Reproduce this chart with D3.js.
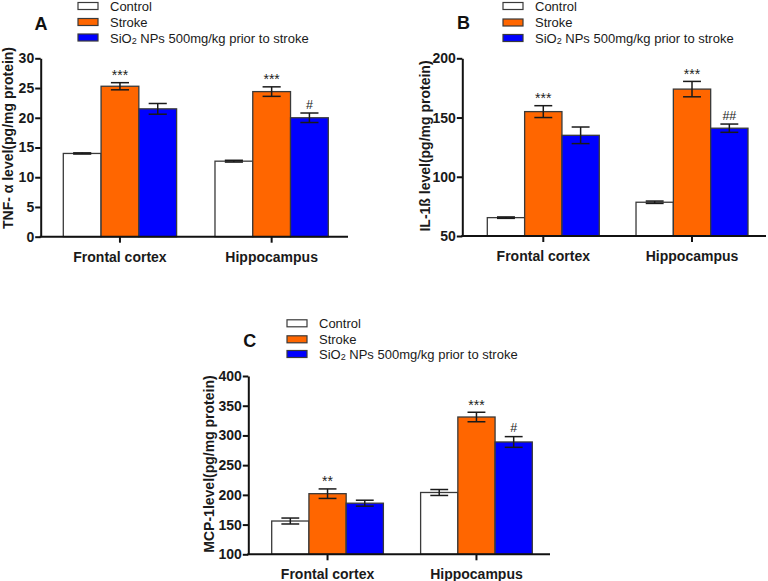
<!DOCTYPE html>
<html>
<head>
<meta charset="utf-8">
<script src="https://cdn.jsdelivr.net/npm/d3@7"></script>
<style>
  html, body { margin: 0; padding: 0; background: #fff; }
  svg { display: block; font-family: "Liberation Sans", Arial, Helvetica, sans-serif; }
</style>
</head>
<body>
<svg id="chart" width="768" height="581"></svg>
<script>
// ---------- DATA ----------
const categories = ["Frontal cortex", "Hippocampus"];
const seriesNames = ["Control", "Stroke", "SiO2 NPs 500mg/kg prior to stroke"];
const seriesColors = ["#FFFFFF", "#FF6600", "#0000FF"];

// Panel A: TNF-α
const tnfMeans  = [[14.0, 25.3, 21.5], [12.7, 24.4, 20.0]];
const tnfErrors = [[0.1, 0.6, 0.9], [0.15, 0.8, 0.8]];
const tnfMarks  = [["", "***", ""], ["", "***", "#"]];
const tnfTicks  = [0, 5, 10, 15, 20, 25, 30];

// Panel B: IL-1ß
const il1Means  = [[65.5, 155, 135], [78.5, 174, 141]];
const il1Errors = [[0.6, 5, 7], [1, 6.5, 3.5]];
const il1Marks  = [["", "***", ""], ["", "***", "##"]];
const il1Ticks  = [50, 100, 150, 200];

// Panel C: MCP-1
const mcpMeans  = [[156, 202, 186], [204, 331, 289]];
const mcpErrors = [[5, 8, 5], [5, 8, 9]];
const mcpMarks  = [["", "**", ""], ["", "***", "#"]];
const mcpTicks  = [100, 150, 200, 250, 300, 350, 400];

// ---------- DRAW ----------
const svg = d3.select("#chart");

function drawPanel(cfg) {
  const g = svg.append("g");
  const y = d3.scaleLinear().domain(cfg.domain).range([cfg.yBottom, cfg.yTop]);
  const x0 = d3.scaleBand().domain(categories)
    .range([cfg.barStart, cfg.barEnd]).paddingInner(cfg.padInner).paddingOuter(0);
  const x1 = d3.scaleBand().domain(d3.range(seriesNames.length))
    .range([0, x0.bandwidth()]).padding(0);

  // bars
  categories.forEach((cat, ci) => {
    const grp = g.append("g").attr("transform", `translate(${x0(cat)},0)`);
    grp.selectAll("rect").data(cfg.means[ci]).join("rect")
      .attr("x", (d, i) => x1(i))
      .attr("y", d => y(d))
      .attr("width", x1.bandwidth())
      .attr("height", d => y(cfg.domain[0]) - y(d))
      .attr("fill", (d, i) => seriesColors[i])
      .attr("stroke", "#3a3a3a")
      .attr("stroke-width", 1.3);

    // error bars
    const capW = x1.bandwidth() * 0.48;
    cfg.means[ci].forEach((m, i) => {
      const e = cfg.errors[ci][i];
      const cx = x1(i) + x1.bandwidth() / 2;
      const eg = grp.append("g").attr("stroke", "#1a1a1a").attr("stroke-width", 1.5);
      eg.append("line").attr("x1", cx).attr("x2", cx).attr("y1", y(m + e)).attr("y2", y(m - e));
      eg.append("line").attr("x1", cx - capW / 2).attr("x2", cx + capW / 2).attr("y1", y(m + e)).attr("y2", y(m + e));
      eg.append("line").attr("x1", cx - capW / 2).attr("x2", cx + capW / 2).attr("y1", y(m - e)).attr("y2", y(m - e));
      const mk = cfg.marks[ci][i];
      if (mk) {
        grp.append("text")
          .attr("x", cx)
          .attr("y", y(m + e) - (mk.startsWith("*") ? 2.5 : 4.5))
          .attr("text-anchor", "middle")
          .attr("font-size", mk.startsWith("*") ? "14px" : "12.5px")
          .attr("fill", "#222")
          .text(mk);
      }
    });
  });

  // y axis
  const yAxis = d3.axisLeft(y).tickValues(cfg.ticks).tickSize(5.5).tickPadding(1).tickSizeOuter(0);
  const ya = g.append("g").attr("transform", `translate(${cfg.axisX},0)`).call(yAxis);
  ya.select(".domain").attr("stroke", "#111").attr("stroke-width", 2);
  ya.selectAll(".tick line").attr("stroke", "#111").attr("stroke-width", 2);
  ya.selectAll(".tick text").attr("font-size", "14px").attr("font-weight", "bold")
    .attr("fill", "#1a1a1a").attr("font-family", "Liberation Sans, Arial, sans-serif");

  // x axis
  const xAxis = d3.axisBottom(x0).tickSize(6).tickPadding(9).tickSizeOuter(0);
  const xa = g.append("g").attr("transform", `translate(0,${cfg.yBottom})`).call(xAxis);
  xa.select(".domain").remove();
  xa.selectAll(".tick line").attr("stroke", "#111").attr("stroke-width", 2);
  xa.selectAll(".tick text").attr("font-size", "14px").attr("font-weight", "bold")
    .attr("fill", "#1a1a1a").attr("font-family", "Liberation Sans, Arial, sans-serif");
  g.append("line").attr("x1", cfg.axisX - 1).attr("x2", cfg.xEnd)
    .attr("y1", cfg.yBottom).attr("y2", cfg.yBottom)
    .attr("stroke", "#111").attr("stroke-width", 2);

  // y title
  g.append("text")
    .attr("transform", `translate(${cfg.titleX},${cfg.titleY}) rotate(-90)`)
    .attr("text-anchor", "middle")
    .attr("dominant-baseline", "central")
    .attr("font-size", "14px").attr("font-weight", "bold").attr("fill", "#1a1a1a")
    .text(cfg.title);

  // panel letter
  g.append("text")
    .attr("x", cfg.letterX).attr("y", cfg.letterY)
    .attr("text-anchor", "middle").attr("dominant-baseline", "central")
    .attr("font-size", "18px").attr("font-weight", "bold").attr("fill", "#111")
    .text(cfg.letter);

  // legend
  const lg = g.append("g");
  seriesNames.forEach((name, i) => {
    const cy = cfg.legendRows[i];
    lg.append("rect")
      .attr("x", cfg.legendX).attr("y", cy - 3.5)
      .attr("width", 20).attr("height", 7)
      .attr("fill", seriesColors[i]).attr("stroke", "#3a3a3a").attr("stroke-width", 1.2);
    const t = lg.append("text")
      .attr("x", cfg.legendX + 32).attr("y", cy)
      .attr("dominant-baseline", "central")
      .attr("font-size", "13px").attr("fill", "#1a1a1a");
    if (name.startsWith("SiO2")) {
      t.append("tspan").text("SiO");
      t.append("tspan").attr("font-size", "9px").attr("dy", 3).text("2");
      t.append("tspan").attr("dy", -3).text(name.slice(4));
    } else {
      t.text(name);
    }
  });
}

drawPanel({
  means: tnfMeans, errors: tnfErrors, marks: tnfMarks, ticks: tnfTicks,
  domain: [0, 30], yTop: 58.3, yBottom: 236.7,
  axisX: 40.7, xEnd: 348, barStart: 63.3, barEnd: 328.3, padInner: 0.253,
  title: "TNF- α level(pg/mg protein)", titleX: 8, titleY: 138,
  letter: "A", letterX: 41, letterY: 24,
  legendX: 78, legendRows: [6, 22, 37.5]
});

drawPanel({
  means: il1Means, errors: il1Errors, marks: il1Marks, ticks: il1Ticks,
  domain: [50, 200], yTop: 58.3, yBottom: 236,
  axisX: 462.3, xEnd: 766, barStart: 487.3, barEnd: 748, padInner: 0.247,
  title: "IL-1ß level(pg/mg protein)", titleX: 425, titleY: 146,
  letter: "B", letterX: 463.5, letterY: 23,
  legendX: 503, legendRows: [6, 22.5, 38]
});

drawPanel({
  means: mcpMeans, errors: mcpErrors, marks: mcpMarks, ticks: mcpTicks,
  domain: [100, 400], yTop: 376, yBottom: 554.3,
  axisX: 248.3, xEnd: 550, barStart: 271.7, barEnd: 532.3, padInner: 0.25,
  title: "MCP-1level(pg/mg protein)", titleX: 209, titleY: 464,
  letter: "C", letterX: 249.7, letterY: 340.7,
  legendX: 287, legendRows: [323.3, 339.3, 354]
});
</script>
</body>
</html>
